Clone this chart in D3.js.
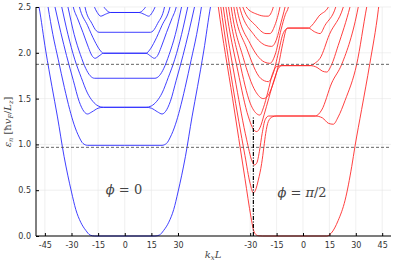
<!DOCTYPE html>
<html>
<head>
<meta charset="utf-8">
<script src="https://cdn.jsdelivr.net/npm/d3@7"></script>
<style>
  body { margin: 0; background: #fff; }
  text { font-family: "DejaVu Sans", sans-serif; }
</style>
</head>
<body>
<div id="chart"></div>
<script>
// tick values
const yTicks = [0, 0.5, 1.0, 1.5, 2.0, 2.5];
const leftTicks = [-45, -30, -15, 0, 15, 30];
const rightTicks = [-30, -15, 0, 15, 30, 45];

// horizontal dashed reference levels and the dash-dot marker
const dashedLevels = [0.968, 1.874];
const markerK = -28.2;
const markerTop = 1.30;

// phi = 0 bands, left half (k <= 0), mirrored for k > 0
const blueHalves = [
  [[-49.5, 2.62], [-48.3, 2.5], [-44.5, 2.02], [-41, 1.63], [-37.9, 1.3], [-34.2, 0.87], [-30, 0.48], [-27.6, 0.29], [-24.8, 0.15], [-21.9, 0.06], [-19.5, 0.01], [-17, 0], [0, 0]],
  [[-44, 2.6], [-43.2, 2.5], [-40.5, 2.2], [-37.5, 1.93], [-34, 1.62], [-31, 1.38], [-28.6, 1.22], [-25.7, 1.08], [-23.5, 1.01], [-21, 0.99], [0, 0.99]],
  [[-40, 2.56], [-39.3, 2.5], [-36, 2.22], [-32.8, 1.97], [-29, 1.7], [-25.7, 1.47], [-23, 1.36], [-21, 1.332], [-18.5, 1.355], [-15, 1.395], [-12, 1.405], [0, 1.405]],
  [[-36.2, 2.56], [-35.5, 2.5], [-32, 2.2], [-28.2, 1.93], [-24.5, 1.73], [-21, 1.56], [-18, 1.47], [-15, 1.42], [-12, 1.405], [0, 1.405]],
  [[-32.7, 2.56], [-32, 2.5], [-28.5, 2.2], [-25, 1.98], [-22, 1.83], [-19.5, 1.75], [-17, 1.722], [0, 1.722]],
  [[-29.7, 2.56], [-29, 2.5], [-26.5, 2.37], [-23.5, 2.22], [-20.5, 2.06], [-18.5, 1.97], [-16.7, 1.94], [-14.5, 1.965], [-12, 1.995], [0, 1.995]],
  [[-26.2, 2.56], [-25.5, 2.5], [-21, 2.3], [-17, 2.13], [-14, 2.03], [-12, 1.995], [0, 1.995]],
  [[-23, 2.56], [-22.4, 2.5], [-18.5, 2.32], [-16, 2.24], [-14.5, 2.224], [0, 2.224]],
  [[-19, 2.6], [-17.5, 2.52], [-15.5, 2.44], [-13.5, 2.40], [-11, 2.42], [-8, 2.44], [0, 2.44]],
  [[-14, 2.6], [-12, 2.51], [-10, 2.46], [-8, 2.44], [0, 2.44]]
];

// phi = pi/2 bands, full k range
const redBands = [
  [[-49, 2.63], [-48.1, 2.5], [-40, 1.5], [-33, 0.63], [-29.5, 0.2], [-28.2, 0.07], [-27.2, 0.025], [-25.5, 0.003], [-23, 0], [13.5, 0], [16, 0.03], [20, 0.17], [23.9, 0.39], [27.7, 0.76], [29.5, 0.975], [33.3, 1.38], [38, 1.885], [42.8, 2.47], [43.3, 2.55]],
  [[-47.4, 2.6], [-46.7, 2.5], [-40, 1.65], [-33, 0.88], [-30, 0.57], [-28.2, 0.47], [-27, 0.5], [-25.4, 0.61], [-23.5, 0.79], [-22.2, 0.975], [-21.2, 1.12], [-19.7, 1.25], [-17.5, 1.3], [-15, 1.31], [7, 1.31], [11, 1.29], [14.5, 1.23], [17.2, 1.22], [20, 1.3], [23.9, 1.48], [30.5, 1.874], [36.2, 2.5], [36.8, 2.56]],
  [[-46, 2.6], [-45.3, 2.5], [-38, 1.65], [-32, 1.05], [-29, 0.82], [-27.6, 0.775], [-26.2, 0.8], [-24.8, 0.92], [-23.2, 1.12], [-21.5, 1.27], [-19.5, 1.31], [7, 1.31], [10.6, 1.375], [16.3, 1.67], [22, 1.874], [31.4, 2.5], [32, 2.56]],
  [[-44.5, 2.6], [-43.8, 2.5], [-37, 1.8], [-31, 1.3], [-28, 1.16], [-26.3, 1.14], [-24.5, 1.18], [-22, 1.33], [-19.5, 1.5], [-16.5, 1.7], [-14, 1.83], [-12, 1.86], [4, 1.86], [8, 1.84], [11, 1.80], [13.5, 1.79], [16, 1.86], [20, 2.08], [26.7, 2.5], [27.5, 2.56]],
  [[-43, 2.6], [-42.3, 2.5], [-36, 1.9], [-30, 1.45], [-26, 1.33], [-24.5, 1.32], [-22.5, 1.4], [-20, 1.57], [-17.5, 1.76], [-15, 1.85], [-12, 1.86], [4, 1.86], [7, 1.89], [9.7, 1.94], [15, 2.2], [22.9, 2.5], [23.8, 2.56]],
  [[-41.5, 2.6], [-40.8, 2.5], [-34, 1.95], [-27, 1.58], [-22.6, 1.50], [-20, 1.53], [-17, 1.66], [-14, 1.86], [-11.5, 2.1], [-9, 2.27], [3, 2.27], [6.5, 2.23], [9.7, 2.21], [12.5, 2.3], [18.6, 2.5], [19.5, 2.56]],
  [[-40, 2.6], [-39.3, 2.5], [-32, 2.05], [-24, 1.72], [-19.7, 1.685], [-17, 1.77], [-14, 2.0], [-11.5, 2.2], [-9.5, 2.26], [-8, 2.27], [3, 2.27], [6, 2.32], [9, 2.4], [14.4, 2.5], [15, 2.56]],
  [[-38.5, 2.6], [-37.7, 2.5], [-30, 2.1], [-22, 1.9], [-18.8, 1.885], [-15.5, 2.0], [-12.5, 2.25], [-10, 2.42], [-8.3, 2.5], [-7.5, 2.58]],
  [[-36.7, 2.6], [-36, 2.5], [-28, 2.2], [-21, 2.08], [-17.8, 2.07], [-15, 2.15], [-12.5, 2.33], [-10.2, 2.5], [-9.5, 2.56]],
  [[-35, 2.6], [-34.2, 2.5], [-27, 2.3], [-21, 2.21], [-18.8, 2.21], [-16, 2.3], [-13.1, 2.5], [-12.5, 2.56]],
  [[-33, 2.6], [-32.3, 2.5], [-26, 2.42], [-21.5, 2.40], [-19.7, 2.40], [-18, 2.44], [-16.9, 2.5], [-16.3, 2.56]]
];

const width = 399, height = 266;
const svg = d3.select("#chart").append("svg")
  .attr("width", width)
  .attr("height", height);

const plotLeft = 36, plotRight = 391, plotTop = 7, plotBottom = 236;

const y = d3.scaleLinear().domain([0, 2.5]).range([plotBottom, plotTop]);
const xLeft = d3.scaleLinear().domain([-50, 50]).range([36, 213.5]);
const xRight = d3.scaleLinear().domain([-50, 50]).range([215, 391]);

// clip paths for the two panels
const defs = svg.append("defs");
defs.append("clipPath").attr("id", "clipL").append("rect")
  .attr("x", xLeft(-50)).attr("y", plotTop)
  .attr("width", xLeft(50) - xLeft(-50)).attr("height", plotBottom - plotTop + 1);
defs.append("clipPath").attr("id", "clipR").append("rect")
  .attr("x", xRight(-50)).attr("y", plotTop)
  .attr("width", xRight(50) - xRight(-50)).attr("height", plotBottom - plotTop + 1);

// grid
const grid = svg.append("g").attr("stroke", "#e6e6e6").attr("stroke-width", 0.6);
yTicks.forEach(function (t) {
  grid.append("line").attr("x1", plotLeft).attr("x2", plotRight)
    .attr("y1", y(t)).attr("y2", y(t));
});
leftTicks.forEach(function (t) {
  grid.append("line").attr("x1", xLeft(t)).attr("x2", xLeft(t))
    .attr("y1", plotTop).attr("y2", plotBottom);
});
rightTicks.forEach(function (t) {
  grid.append("line").attr("x1", xRight(t)).attr("x2", xRight(t))
    .attr("y1", plotTop).attr("y2", plotBottom);
});

const line = function (xs) {
  return d3.line()
    .x(function (d) { return xs(d[0]); })
    .y(function (d) { return y(d[1]); })
    .curve(d3.curveMonotoneX);
};

// phi = 0 panel
const blueLine = line(xLeft);
svg.append("g").attr("clip-path", "url(#clipL)")
  .selectAll("path")
  .data(blueHalves.map(function (h) {
    const mirrored = h.slice(0, -1).reverse().map(function (p) { return [-p[0], p[1]]; });
    return h.concat(mirrored);
  }))
  .join("path")
  .attr("fill", "none")
  .attr("stroke", "#2a2aff")
  .attr("stroke-width", 0.9)
  .attr("d", blueLine);

// phi = pi/2 panel
const redLine = line(xRight);
svg.append("g").attr("clip-path", "url(#clipR)")
  .selectAll("path")
  .data(redBands)
  .join("path")
  .attr("fill", "none")
  .attr("stroke", "#ff2a2a")
  .attr("stroke-width", 0.9)
  .attr("d", redLine);

// dashed levels across both panels
svg.selectAll(".level")
  .data(dashedLevels)
  .join("line")
  .attr("class", "level")
  .attr("x1", plotLeft).attr("x2", plotRight)
  .attr("y1", function (d) { return y(d); })
  .attr("y2", function (d) { return y(d); })
  .attr("stroke", "#555")
  .attr("stroke-width", 0.9)
  .attr("stroke-dasharray", "3,2");

// dash-dot marker
svg.append("line")
  .attr("x1", xRight(markerK)).attr("x2", xRight(markerK))
  .attr("y1", y(0)).attr("y2", y(markerTop))
  .attr("stroke", "#000")
  .attr("stroke-width", 1.2)
  .attr("stroke-dasharray", "4,1.5,1,1.5");

// axes
const hyphen = function (d) { return String(d); };
const yAxis = d3.axisLeft(y).tickValues(yTicks).tickFormat(d3.format(".1f")).tickSize(-3).tickPadding(5);
const gy = svg.append("g").attr("transform", "translate(" + plotLeft + ",0)").call(yAxis);
gy.select(".domain").attr("d", "M0," + plotTop + "V" + plotBottom);

const axL = d3.axisBottom(xLeft).tickValues(leftTicks).tickFormat(hyphen).tickSize(-3).tickPadding(6);
const axR = d3.axisBottom(xRight).tickValues(rightTicks).tickFormat(hyphen).tickSize(-3).tickPadding(6);
const gxl = svg.append("g").attr("transform", "translate(0," + plotBottom + ")").call(axL);
const gxr = svg.append("g").attr("transform", "translate(0," + plotBottom + ")").call(axR);
gxl.select(".domain").remove();
gxr.select(".domain").remove();
svg.append("line")
  .attr("x1", plotLeft).attr("x2", plotRight)
  .attr("y1", plotBottom).attr("y2", plotBottom)
  .attr("stroke", "#000").attr("stroke-width", 1);

svg.selectAll(".tick text").attr("font-size", 8).attr("fill", "#333");

// panel labels
const phi0 = svg.append("text")
  .attr("x", 124).attr("y", 194)
  .attr("text-anchor", "middle")
  .attr("font-size", 13)
  .style("font-family", "'DejaVu Serif', serif")
  .attr("fill", "#444");
phi0.append("tspan").attr("font-style", "italic").text("ϕ");
phi0.append("tspan").text(" = 0");

const phi2 = svg.append("text")
  .attr("x", 302).attr("y", 197)
  .attr("text-anchor", "middle")
  .attr("font-size", 13)
  .style("font-family", "'DejaVu Serif', serif")
  .attr("fill", "#444");
phi2.append("tspan").attr("font-style", "italic").text("ϕ");
phi2.append("tspan").text(" = ");
phi2.append("tspan").attr("font-style", "italic").text("π");
phi2.append("tspan").text("/2");

// axis titles
const xt = svg.append("text")
  .attr("x", 213).attr("y", 258)
  .attr("text-anchor", "middle")
  .attr("font-size", 10)
  .style("font-family", "'DejaVu Serif', serif")
  .attr("font-style", "italic")
  .attr("fill", "#444");
xt.append("tspan").text("k");
xt.append("tspan").attr("font-size", 7).attr("dy", 2).text("x");
xt.append("tspan").attr("dy", -2).text("L");

const yt = svg.append("text")
  .attr("transform", "translate(11,122) rotate(-90)")
  .attr("text-anchor", "middle")
  .attr("font-size", 10)
  .style("font-family", "'DejaVu Serif', serif")
  .attr("fill", "#444");
yt.append("tspan").attr("font-style", "italic").text("ε");
yt.append("tspan").attr("font-style", "italic").attr("font-size", 6.5).attr("dy", 2).text("n");
yt.append("tspan").attr("dy", -2).text(" [ħ");
yt.append("tspan").attr("font-style", "italic").text("v");
yt.append("tspan").attr("font-style", "italic").attr("font-size", 6.5).attr("dy", 2).text("F");
yt.append("tspan").attr("dy", -2).text("/");
yt.append("tspan").attr("font-style", "italic").text("L");
yt.append("tspan").attr("font-style", "italic").attr("font-size", 6.5).attr("dy", 2).text("z");
yt.append("tspan").attr("dy", -2).text("]");
</script>
</body>
</html>
